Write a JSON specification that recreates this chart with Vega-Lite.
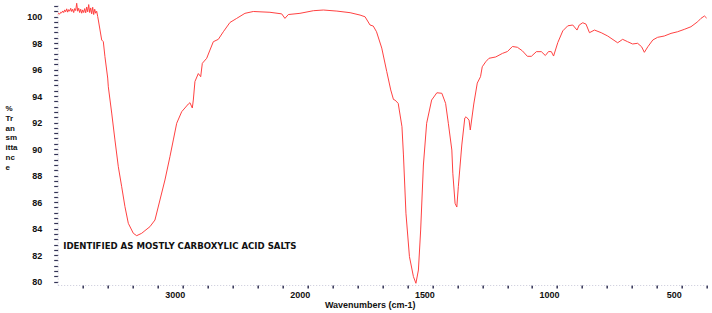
{
  "$schema": "https://vega.github.io/schema/vega-lite/v6.json",
  "autosize": "none",
  "width": 649,
  "height": 282,
  "padding": {"left": 57.7, "top": 3, "right": 5, "bottom": 28},
  "background": "white",
  "view": {"stroke": null},
  "config": {"font": "Liberation Sans"},
  "datasets": {
    "spectrum": [
      {"wn": 4000, "t": 100.15}, {"wn": 3992, "t": 100.25}, {"wn": 3984, "t": 100.18}, {"wn": 3976, "t": 100.32},
      {"wn": 3968, "t": 100.28}, {"wn": 3960, "t": 100.42}, {"wn": 3952, "t": 100.3}, {"wn": 3944, "t": 100.5},
      {"wn": 3936, "t": 100.36}, {"wn": 3928, "t": 100.58}, {"wn": 3920, "t": 100.33}, {"wn": 3912, "t": 100.52},
      {"wn": 3904, "t": 100.4}, {"wn": 3896, "t": 100.62}, {"wn": 3888, "t": 100.38}, {"wn": 3880, "t": 100.55},
      {"wn": 3872, "t": 100.3}, {"wn": 3864, "t": 100.6}, {"wn": 3856, "t": 100.45}, {"wn": 3848, "t": 101.0},
      {"wn": 3840, "t": 100.4}, {"wn": 3832, "t": 100.62}, {"wn": 3824, "t": 100.3}, {"wn": 3816, "t": 100.55},
      {"wn": 3808, "t": 100.25}, {"wn": 3800, "t": 100.5}, {"wn": 3792, "t": 100.3}, {"wn": 3784, "t": 100.6},
      {"wn": 3776, "t": 100.28}, {"wn": 3768, "t": 100.72}, {"wn": 3760, "t": 100.35}, {"wn": 3752, "t": 100.9},
      {"wn": 3744, "t": 100.3}, {"wn": 3736, "t": 100.65}, {"wn": 3728, "t": 100.2}, {"wn": 3720, "t": 100.7},
      {"wn": 3712, "t": 100.15}, {"wn": 3704, "t": 100.55}, {"wn": 3696, "t": 100.25}, {"wn": 3688, "t": 100.4},
      {"wn": 3680, "t": 100.0}, {"wn": 3675, "t": 99.74}, {"wn": 3648, "t": 98.23}, {"wn": 3635, "t": 98.1},
      {"wn": 3622, "t": 96.97}, {"wn": 3600, "t": 95.36}, {"wn": 3595, "t": 94.7}, {"wn": 3568, "t": 92.72},
      {"wn": 3542, "t": 90.69}, {"wn": 3515, "t": 88.67}, {"wn": 3488, "t": 87.16}, {"wn": 3462, "t": 85.66},
      {"wn": 3435, "t": 84.4}, {"wn": 3395, "t": 83.65}, {"wn": 3368, "t": 83.47}, {"wn": 3328, "t": 83.65},
      {"wn": 3302, "t": 83.85}, {"wn": 3262, "t": 84.15}, {"wn": 3222, "t": 84.65}, {"wn": 3182, "t": 86.16},
      {"wn": 3142, "t": 87.67}, {"wn": 3102, "t": 89.43}, {"wn": 3075, "t": 90.69}, {"wn": 3048, "t": 91.95},
      {"wn": 3008, "t": 92.82}, {"wn": 2955, "t": 93.4}, {"wn": 2942, "t": 93.5}, {"wn": 2923, "t": 93.1},
      {"wn": 2915, "t": 93.7}, {"wn": 2902, "t": 95.1}, {"wn": 2875, "t": 95.7}, {"wn": 2856, "t": 95.46},
      {"wn": 2843, "t": 96.47}, {"wn": 2808, "t": 96.85}, {"wn": 2782, "t": 97.47}, {"wn": 2755, "t": 98.1},
      {"wn": 2715, "t": 98.28}, {"wn": 2675, "t": 98.85}, {"wn": 2622, "t": 99.55}, {"wn": 2568, "t": 99.86},
      {"wn": 2502, "t": 100.24}, {"wn": 2435, "t": 100.38}, {"wn": 2302, "t": 100.32}, {"wn": 2208, "t": 100.2},
      {"wn": 2182, "t": 99.86}, {"wn": 2155, "t": 100.15}, {"wn": 2062, "t": 100.24}, {"wn": 1977, "t": 100.44},
      {"wn": 1937, "t": 100.49}, {"wn": 1883, "t": 100.41}, {"wn": 1830, "t": 100.29}, {"wn": 1790, "t": 100.11},
      {"wn": 1770, "t": 99.98}, {"wn": 1750, "t": 99.36}, {"wn": 1737, "t": 99.28}, {"wn": 1724, "t": 98.85},
      {"wn": 1703, "t": 97.62}, {"wn": 1683, "t": 95.85}, {"wn": 1667, "t": 94.46}, {"wn": 1656, "t": 93.74},
      {"wn": 1650, "t": 93.7}, {"wn": 1637, "t": 93.45}, {"wn": 1622, "t": 91.69}, {"wn": 1616, "t": 89.56},
      {"wn": 1606, "t": 85.16}, {"wn": 1592, "t": 81.89}, {"wn": 1576, "t": 80.38}, {"wn": 1566, "t": 79.88},
      {"wn": 1556, "t": 80.88}, {"wn": 1547, "t": 83.9}, {"wn": 1536, "t": 88.8}, {"wn": 1523, "t": 91.95},
      {"wn": 1503, "t": 93.7}, {"wn": 1482, "t": 94.25}, {"wn": 1462, "t": 94.21}, {"wn": 1447, "t": 93.45},
      {"wn": 1436, "t": 91.95}, {"wn": 1422, "t": 89.93}, {"wn": 1418, "t": 88.18}, {"wn": 1409, "t": 85.91},
      {"wn": 1402, "t": 85.63}, {"wn": 1396, "t": 87.16}, {"wn": 1382, "t": 90.31}, {"wn": 1370, "t": 92.35},
      {"wn": 1365, "t": 92.44}, {"wn": 1353, "t": 92.19}, {"wn": 1348, "t": 91.44}, {"wn": 1334, "t": 93.4},
      {"wn": 1320, "t": 94.98}, {"wn": 1307, "t": 95.46}, {"wn": 1300, "t": 96.21}, {"wn": 1286, "t": 96.59},
      {"wn": 1273, "t": 96.85}, {"wn": 1246, "t": 96.95}, {"wn": 1219, "t": 97.22}, {"wn": 1199, "t": 97.36},
      {"wn": 1179, "t": 97.74}, {"wn": 1159, "t": 97.68}, {"wn": 1139, "t": 97.41}, {"wn": 1119, "t": 97.0},
      {"wn": 1103, "t": 97.0}, {"wn": 1083, "t": 97.35}, {"wn": 1063, "t": 97.35}, {"wn": 1047, "t": 97.06},
      {"wn": 1034, "t": 97.36}, {"wn": 1023, "t": 97.35}, {"wn": 1014, "t": 97.02}, {"wn": 997, "t": 98.04},
      {"wn": 977, "t": 98.92}, {"wn": 957, "t": 99.3}, {"wn": 937, "t": 99.36}, {"wn": 920, "t": 98.98},
      {"wn": 911, "t": 99.36}, {"wn": 897, "t": 99.53}, {"wn": 884, "t": 99.43}, {"wn": 870, "t": 98.78},
      {"wn": 850, "t": 98.98}, {"wn": 823, "t": 98.78}, {"wn": 797, "t": 98.53}, {"wn": 757, "t": 98.02},
      {"wn": 737, "t": 98.28}, {"wn": 717, "t": 98.1}, {"wn": 697, "t": 97.93}, {"wn": 677, "t": 97.98},
      {"wn": 661, "t": 97.72}, {"wn": 650, "t": 97.3}, {"wn": 636, "t": 97.72}, {"wn": 616, "t": 98.23},
      {"wn": 597, "t": 98.43}, {"wn": 570, "t": 98.53}, {"wn": 543, "t": 98.73}, {"wn": 517, "t": 98.85},
      {"wn": 490, "t": 99.03}, {"wn": 463, "t": 99.23}, {"wn": 436, "t": 99.61}, {"wn": 423, "t": 99.86},
      {"wn": 409, "t": 100.04}, {"wn": 399, "t": 99.86}
    ],
    "note": [
      {"wn": 3956, "t": 82.68, "label": "IDENTIFIED AS MOSTLY CARBOXYLIC ACID SALTS"}
    ]
  },
  "encoding": {
    "x": {
      "field": "wn",
      "type": "quantitative",
      "scale": {"domain": [4000, 2000, 400], "range": [0, 250, 649], "nice": false, "zero": false},
      "axis": {
        "title": "Wavenumbers (cm-1)",
        "values": [3800, 3600, 3400, 3200, 3000, 2800, 2600, 2400, 2200, 2000, 1900, 1800, 1700, 1600, 1500, 1400, 1300, 1200, 1100, 1000, 900, 800, 700, 600, 500, 400],
        "labelExpr": "indexof([3000,2000,1500,1000,500], datum.value) >= 0 ? datum.label : ''",
        "format": "d",
        "grid": false,
        "domainColor": "#c8c8d8",
        "domainDash": [1, 2],
        "tickColor": "#333355",
        "tickSize": 3,
        "tickWidth": 1.5,
        "labelFont": "Liberation Sans",
        "labelFontSize": 9,
        "labelFontWeight": "bold",
        "labelColor": "#111111",
        "labelPadding": 3,
        "labelOffset": -8,
        "titleFont": "Liberation Sans",
        "titleFontSize": 9,
        "titleFontWeight": "bold",
        "titleColor": "#111111",
        "titleX": 312,
        "titleY": 20,
        "titleAnchor": null,
        "titleAlign": "center",
        "titleBaseline": "middle"
      }
    },
    "y": {
      "field": "t",
      "type": "quantitative",
      "scale": {"domain": [79.75, 101.02], "nice": false, "zero": false},
      "axis": {
        "title": ["%", "Tr", "an", "sm", "itta", "nc", "e"],
        "values": [80, 80.4, 80.8, 81.2, 81.6, 82, 82.4, 82.8, 83.2, 83.6, 84, 84.4, 84.8, 85.2, 85.6, 86, 86.4, 86.8, 87.2, 87.6, 88, 88.4, 88.8, 89.2, 89.6, 90, 90.4, 90.8, 91.2, 91.6, 92, 92.4, 92.8, 93.2, 93.6, 94, 94.4, 94.8, 95.2, 95.6, 96, 96.4, 96.8, 97.2, 97.6, 98, 98.4, 98.8, 99.2, 99.6, 100, 100.4, 100.8],
        "labelExpr": "abs(datum.value - round(datum.value / 2) * 2) < 0.01 ? format(datum.value, 'd') : ''",
        "grid": false,
        "domainColor": "#c8c8d8",
        "domainDash": [1, 2],
        "tickColor": "#333355",
        "tickSize": 4,
        "tickWidth": 1.2,
        "labelFont": "Liberation Sans",
        "labelFontSize": 9,
        "labelFontWeight": "bold",
        "labelColor": "#111111",
        "labelPadding": 12,
        "titleFont": "Liberation Sans",
        "titleFontSize": 8,
        "titleFontWeight": "bold",
        "titleColor": "#111111",
        "titleAngle": 0,
        "titleAlign": "left",
        "titleBaseline": "top",
        "titleLineHeight": 9.8,
        "titleX": -52.7,
        "titleY": 101.5,
        "titleAnchor": null
      }
    }
  },
  "layer": [
    {
      "data": {"name": "spectrum"},
      "mark": {"type": "line", "color": "#ff4040", "strokeWidth": 1, "clip": true, "interpolate": "linear"}
    },
    {
      "data": {"name": "note"},
      "mark": {"type": "text", "align": "left", "baseline": "middle", "font": "DejaVu Sans", "fontSize": 8.6, "fontWeight": "bold", "color": "#111111"},
      "encoding": {"text": {"field": "label"}}
    }
  ]
}
